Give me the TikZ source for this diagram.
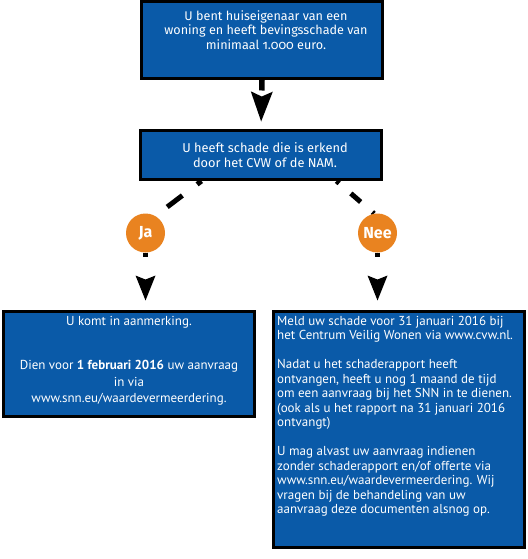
\documentclass[tikz,border=0pt]{standalone}
\usepackage{fontspec}
\setmainfont{PT Sans}
\newfontfamily\rofont[Numbers=OldStyle]{Fira Sans}
\usetikzlibrary{arrows.meta,backgrounds}
\definecolor{boxblue}{RGB}{10,90,168}
\definecolor{choiceorange}{RGB}{233,131,32}
\newcommand{\tightlines}{\lineskiplimit=-20pt\lineskip=0pt}
\begin{document}
\begin{tikzpicture}[x=1pt,y=1pt,
  box/.style={draw=black, line width=3pt, fill=boxblue, rectangle, inner sep=0pt},
  txt/.style={text=white, inner sep=0pt},
  choice/.style={circle, fill=choiceorange, inner sep=0pt, minimum size=39pt, text=white,
    font=\rofont\bfseries\fontsize{16}{18}\selectfont},
  dashlink/.style={line width=5pt, line cap=butt},
  bigarrow/.style={line width=5.5pt, -{Stealth[length=30pt,width=22pt,inset=5pt,line width=0pt]}},
  smallarrow/.style={line width=5pt, -{Stealth[length=25pt,width=20pt,inset=4pt,line width=0pt]}}
]
\useasboundingbox (0,0) rectangle (527,-559);

% boxes
\node[box, minimum width=241pt, minimum height=77pt] (top) at (262,-40) {};
\node[box, minimum width=241pt, minimum height=49pt] (mid) at (261,-155) {};
\node[box, minimum width=251pt, minimum height=105pt] (left) at (129,-364) {};
\node[box, minimum width=251pt, minimum height=236pt] (right) at (399,-429.5) {};

% choices
\node[choice] (ja) at (145.5,-233) {Ja};
\node[choice] (nee) at (377.5,-233) {Nee};

% texts
\node[txt, font=\rofont\fontsize{12.6}{14.5}\selectfont\tightlines, align=center, anchor=north] (toptxt) at (266,-10)
  {U bent huiseigenaar van een\\woning en heeft bevingsschade van\\minimaal 1.000 euro.};
\node[txt, font=\rofont\fontsize{12.8}{15}\selectfont\tightlines, align=center] (midtxt) at (265,-155)
  {U heeft schade die is erkend\\door het CVW of de NAM.};
\node[txt, font=\fontsize{13}{16.5}\selectfont\tightlines, align=center, anchor=north] (lefttxt) at (129,-316)
  {U komt in aanmerking.\\[28pt]Dien voor \textbf{1 februari 2016} uw aanvraag\\in via\\www.snn.eu/waardevermeerdering.};
\node[txt, font=\fontsize{13}{14.5}\selectfont\tightlines, align=left, anchor=north west] (righttxt) at (277,-316)
  {Meld uw schade voor 31 januari 2016 bij\\het Centrum Veilig Wonen via www.cvw.nl.\\[14.5pt]
   Nadat u het schaderapport heeft\\ontvangen, heeft u nog 1 maand de tijd\\om een aanvraag bij het SNN in te dienen.\\(ook als u het rapport na 31 januari 2016\\ontvangt)\\[14.5pt]
   U mag alvast uw aanvraag indienen\\zonder schaderapport en/of offerte via\\www.snn.eu/waardevermeerdering. Wij\\vragen bij de behandeling van uw\\aanvraag deze documenten alsnog op.};

% connectors
\begin{scope}[on background layer]
\draw[bigarrow, dash pattern=on 10.5pt off 40pt, shorten >=7.5pt] (top.south) -- (mid.north);
\draw[dashlink, dash pattern=on 19pt off 18.5pt, dash phase=13.5pt] ([xshift=62.5pt]mid.south west) -- (ja.60);
\draw[dashlink, dash pattern=on 13pt off 15.5pt, dash phase=9.5pt] ([xshift=-46.5pt]mid.south east) -- (nee.100);
\draw[smallarrow, dash pattern=on 4pt off 40pt, shorten >=9.5pt] (ja.south) -- (ja.south |- left.north);
\draw[smallarrow, dash pattern=on 4pt off 40pt, shorten >=9.5pt] (nee.south) -- (nee.south |- right.north);
\end{scope}
\end{tikzpicture}
\end{document}
